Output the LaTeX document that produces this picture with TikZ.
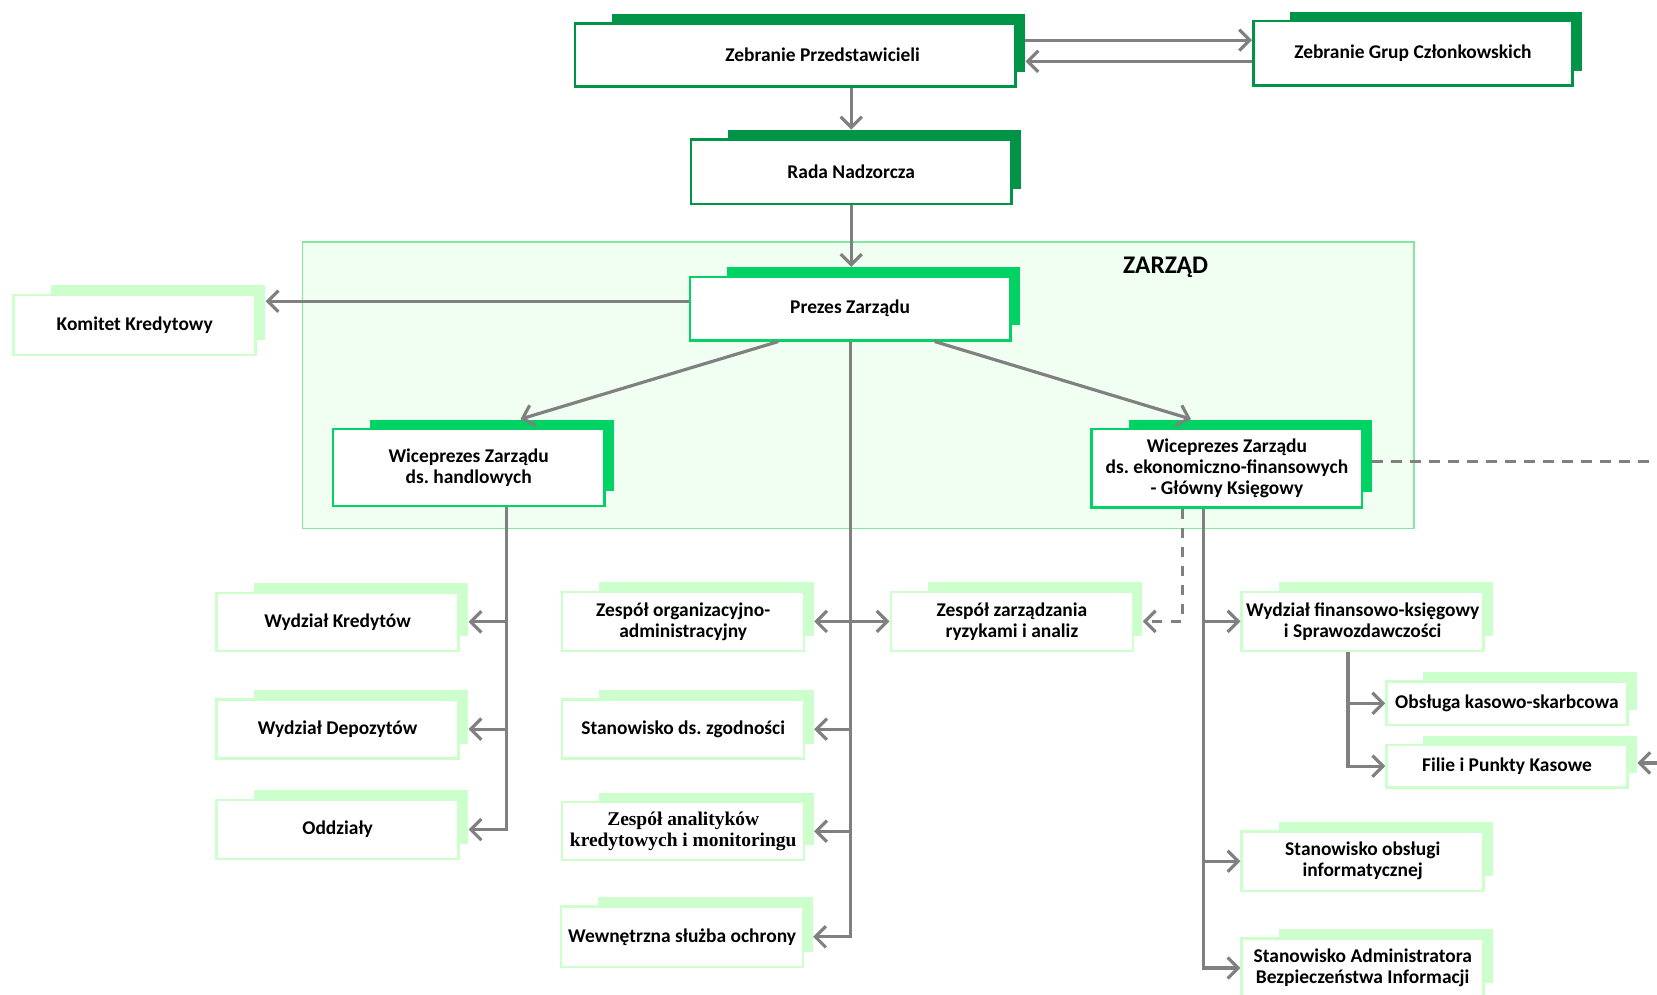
\documentclass[tikz,border=0pt]{standalone}
\usepackage{fontspec}
\setmainfont{Carlito}
\newfontfamily\timesbox{Liberation Serif}
\usetikzlibrary{arrows.meta,calc}
\frenchspacing

\definecolor{darkgreen}{RGB}{0,148,70}
\definecolor{brightgreen}{RGB}{0,210,100}
\definecolor{palegreen}{RGB}{204,255,204}
\definecolor{boardfill}{RGB}{240,255,242}
\definecolor{boardline}{RGB}{130,232,160}
\definecolor{linegray}{RGB}{128,128,128}

\tikzset{
	frontbox/.style={fill=white, line width=1.2pt, inner sep=2pt, align=center, font=\bfseries\fontsize{9.2}{9.9}\selectfont},
	shadowbox/.style={inner sep=0pt, draw=none},
	conn/.style={draw=linegray, line width=1.5pt},
	arr/.style={conn, -{Straight Barb[length=5pt,width=10pt]}},
	dashconn/.style={dash pattern=on 5pt off 4pt},
}

% name, colour, left, top, right, bottom, text
\def\orgbox#1#2#3#4#5#6#7{%
	\node[shadowbox, fill=#2, minimum width={(#5-#3-26)*0.5pt}, minimum height={(#6-#4-5)*0.5pt}] (#1s) at ({(#3+#5)/2+22},{(#4+#6)/2-11.5}) {};
	\node[frontbox, draw=#2, minimum width={(#5-#3)*0.5pt}, minimum height={(#6-#4)*0.5pt}] (#1) at ({(#3+#5)/2},{(#4+#6)/2}) {#7};}

\begin{document}
\begin{tikzpicture}[x=0.5pt, y=-0.5pt]
			%%%%% START %%%%%
			\useasboundingbox[fill=white] (0,0) rectangle (1568,941.5);
			
			\draw[fill=boardfill, draw=boardline, line width=0.6pt] (286,229) rectangle (1338,500);
			\node[font=\bfseries\fontsize{12}{14}\selectfont] (zarzad) at (1103,253) {ZARZĄD};
			
			\orgbox{zp}{darkgreen}{544}{22}{961}{82}{\hspace*{26pt}Zebranie Przedstawicieli}
			\orgbox{zgc}{darkgreen}{1186}{20}{1488}{81}{Zebranie Grup Członkowskich}
			\orgbox{rn}{darkgreen}{654}{132}{957}{193}{Rada Nadzorcza}
			\orgbox{pz}{brightgreen}{653}{262}{956}{322}{Prezes Zarządu}
			\orgbox{kk}{palegreen}{13}{279}{242}{336}{Komitet Kredytowy}
			\orgbox{wph}{brightgreen}{315}{406}{572}{479}{Wiceprezes Zarządu\\ds. handlowych}
			\orgbox{wpe}{brightgreen}{1033}{406}{1289}{480}{Wiceprezes Zarządu\\ds. ekonomiczno-finansowych\\- Główny Księgowy}
			
			\orgbox{wk}{palegreen}{205}{561}{434}{616}{Wydział Kredytów}
			\orgbox{wd}{palegreen}{205}{662}{434}{718}{Wydział Depozytów}
			\orgbox{od}{palegreen}{205}{757}{434}{813}{Oddziały}
			
			\orgbox{zo}{palegreen}{532}{560}{761}{616}{Zespół organizacyjno-\\administracyjny}
			\orgbox{sz}{palegreen}{532}{662}{761}{718}{Stanowisko ds. zgodności}
			\orgbox{za}{palegreen}{532}{759}{761}{814}{\timesbox\bfseries Zespół analityków\\\timesbox\bfseries kredytowych i monitoringu}
			\orgbox{wo}{palegreen}{531}{858}{760}{915}{Wewnętrzna służba ochrony}
			\orgbox{zr}{palegreen}{843}{560}{1072}{616}{Zespół zarządzania\\ryzykami i analiz}
			
			\orgbox{wf}{palegreen}{1175}{560}{1404}{616}{Wydział finansowo-księgowy\\i Sprawozdawczości}
			\orgbox{ok}{palegreen}{1312}{645}{1540}{686}{Obsługa kasowo-skarbcowa}
			\orgbox{fp}{palegreen}{1312}{705}{1540}{745}{Filie i Punkty Kasowe}
			\orgbox{so}{palegreen}{1175}{787}{1404}{843}{Stanowisko obsługi\\informatycznej}
			\orgbox{sa}{palegreen}{1175}{888}{1404}{944}{Stanowisko Administratora\\Bezpieczeństwa Informacji}
			
			% top level
			\coordinate (zpa) at ([yshift=1.25pt]zps.east);
			\coordinate (zpb) at ([yshift=-8.75pt]zps.east);
			\draw[arr] (zpa) -- (zpa -| zgc.west);
			\draw[arr] (zpb -| zgc.west) -- (zpb);
			\draw[arr] (zp.south -| rn.south) -- (rns.north -| rn.south);
			\draw[arr] (rn.south) -- (pzs.north -| rn.south);
			
			\coordinate (pza) at ([yshift=3.5pt]pz.west);
			\draw[arr] (pza) -- (pza -| kks.east);
			\draw[arr] ([xshift=-34pt]pz.south) -- ([xshift=13.5pt]wphs.north);
			\draw[arr] ([xshift=40pt]pz.south) -- ([xshift=-28pt]wpes.north);
			
			% middle trunk
			\draw[arr] (pz.south) |- (wo.east -| wos.east);
			\draw[arr] (pz.south |- zo.east) -- (zo.east -| zos.east);
			\draw[arr] (pz.south |- zr.west) -- (zr.west);
			\draw[arr] (pz.south |- sz.east) -- (sz.east -| szs.east);
			\draw[arr] (pz.south |- za.east) -- (za.east -| zas.east);
			
			% handlowy
			\coordinate (wphb) at ([xshift=18pt]wph.south);
			\draw[arr] (wphb) |- (od.east -| ods.east);
			\draw[arr] (wphb |- wk.east) -- (wk.east -| wks.east);
			\draw[arr] (wphb |- wd.east) -- (wd.east -| wds.east);
			
			% ekonomiczno-finansowy
			\coordinate (wpeb) at ([xshift=-11pt]wpe.south);
			\coordinate (wped) at ([xshift=-21pt]wpe.south);
			\draw[arr, dashconn] (wped) |- (zr.east -| zrs.east);
			\draw[arr] (wpeb) |- (sa.west);
			\draw[arr] (wpeb |- wf.west) -- (wf.west);
			\draw[arr] (wpeb |- so.west) -- (so.west);
			
			\coordinate (wfb) at ([xshift=-7pt]wf.south);
			\draw[arr] (wfb) |- (fp.west);
			\draw[arr] (wfb |- ok.west) -- (ok.west);
			
			\coordinate (wper) at ([yshift=-2.75pt]wpes.east);
			\coordinate (edge) at (1580,437);
			\draw[conn, dashconn] (wper) -- (wper -| edge);
			\coordinate (fpin) at (1585,722);
			\draw[arr] (fpin) -- (fpin -| fps.east);
			
			%%%%% END %%%%%
\end{tikzpicture}
\end{document}
